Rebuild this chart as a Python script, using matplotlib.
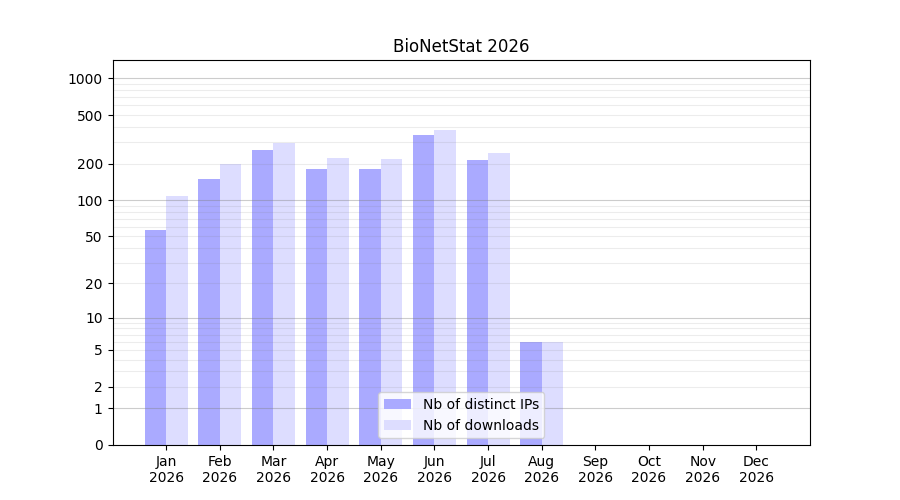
import numpy as np
import matplotlib
matplotlib.use('Agg')
import matplotlib.pyplot as plt

months = ['Jan', 'Feb', 'Mar', 'Apr', 'May', 'Jun', 'Jul', 'Aug', 'Sep', 'Oct', 'Nov', 'Dec']
year = 2026
distinct_ips = [56, 150, 258, 181, 181, 343, 214, 6, 0, 0, 0, 0]
downloads = [108, 198, 296, 222, 218, 380, 245, 6, 0, 0, 0, 0]
y_ticks = [0, 1, 2, 5, 10, 20, 50, 100, 200, 500, 1000]


def fwd(v):
    return np.log10(1 + np.clip(v, 0, None))


def inv(v):
    return 10 ** v - 1


fig, ax = plt.subplots(figsize=(9, 5), dpi=100)
ax.set_yscale('function', functions=(fwd, inv))

x = np.arange(len(months))
ax.bar(x - 0.2, distinct_ips, width=0.4, color='#aaaaff', label='Nb of distinct IPs', zorder=1)
ax.bar(x + 0.2, downloads, width=0.4, color='#ddddff', label='Nb of downloads', zorder=1)

# grid lines drawn over the bars: light at 2..9 per decade, darker at powers of ten
for p in [1, 10, 100]:
    for m in range(2, 10):
        ax.axhline(p * m, color='gray', alpha=0.15, linewidth=0.8, zorder=2)
for p in [1, 10, 100, 1000]:
    ax.axhline(p, color='gray', alpha=0.4, linewidth=0.8, zorder=2)

ax.set_xlim(-1, 12)
ax.set_ylim(0, 1412)
ax.set_yticks(y_ticks)
ax.set_yticklabels([str(t) for t in y_ticks])
ax.yaxis.set_minor_locator(matplotlib.ticker.NullLocator())
ax.set_xticks(x)
ax.set_xticklabels([f'{m}\n{year}' for m in months])
ax.set_title(f'BioNetStat {year}')
ax.legend(loc='lower center')

plt.savefig('out.png', dpi=100)
